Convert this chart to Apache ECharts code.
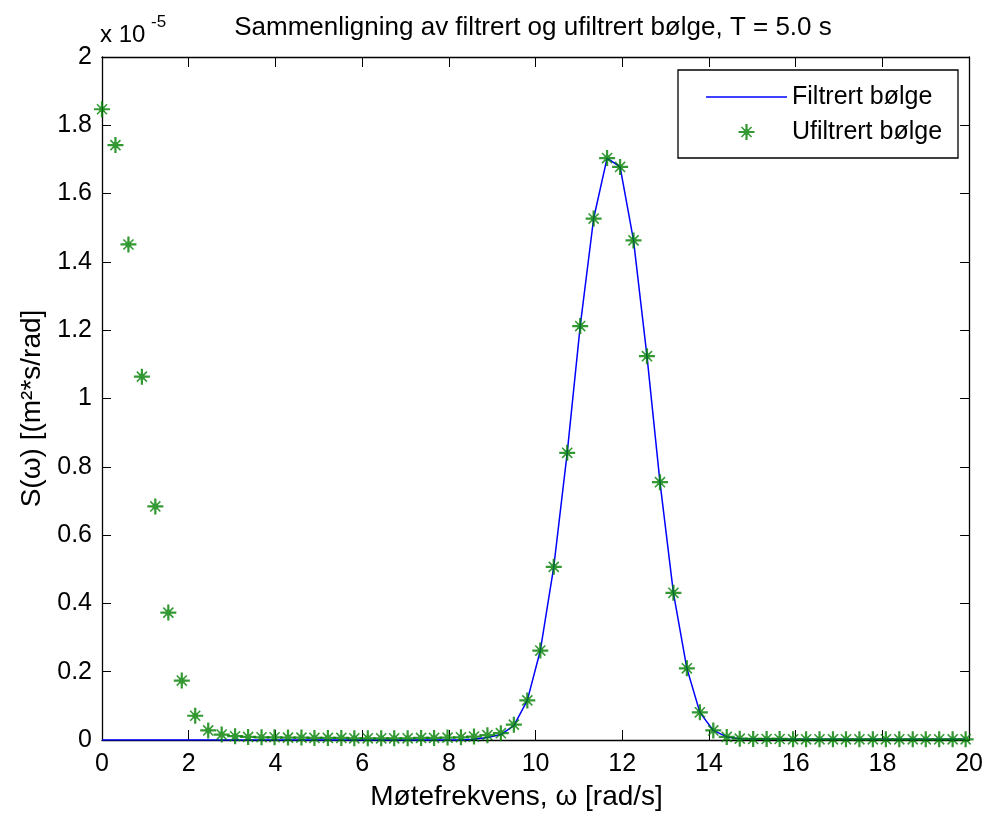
<!DOCTYPE html>
<html>
<head>
<meta charset="utf-8">
<title>Sammenligning av filtrert og ufiltrert bølge</title>
<script src="https://cdn.jsdelivr.net/npm/echarts@6/dist/echarts.min.js"></script>
<style>html,body{margin:0;padding:0;background:#fff}#chart{width:986px;height:816px}</style>
</head>
<body>
<div id="chart"></div>
<script>
// encounter frequency [rad/s]
var omega=[0,0.31,0.61,0.92,1.23,1.53,1.84,2.15,2.45,2.76,3.07,3.37,3.68,3.98,4.29,4.60,4.90,5.21,5.52,5.82,
	6.13,6.44,6.74,7.05,7.36,7.66,7.97,8.28,8.58,8.89,9.20,9.50,9.81,10.11,10.42,10.73,11.03,11.34,11.65,11.95,
	12.26,12.57,12.87,13.18,13.49,13.79,14.10,14.41,14.71,15.02,15.33,15.63,15.94,16.24,16.55,16.86,17.16,17.47,17.78,18.08,
	18.39,18.70,19.00,19.31,19.62,19.92];
// S(w) in units of 1e-5
var ufiltrert=[1.847,1.742,1.451,1.064,0.684,0.373,0.174,0.071,0.028,0.016,0.011,0.009,0.008,0.008,0.007,0.007,0.006,0.006,0.006,0.005,
	0.005,0.005,0.005,0.005,0.006,0.006,0.007,0.008,0.010,0.014,0.020,0.045,0.116,0.262,0.507,0.841,1.212,1.527,1.704,1.678,
	1.463,1.124,0.755,0.431,0.210,0.081,0.028,0.009,0.004,0.003,0.003,0.003,0.002,0.002,0.002,0.002,0.002,0.002,0.002,0.002,
	0.002,0.002,0.002,0.002,0.002,0.002];
var filtrert=[0,0,0,0,0,0,0,0,0,0,0,0,0,0,0,0,0,0,0,0,
	0,0,0,0,0,0,0,0,0.002,0.007,0.016,0.042,0.116,0.262,0.507,0.841,1.212,1.527,1.704,1.678,
	1.463,1.124,0.755,0.431,0.210,0.081,0.028,0.009,0.004,0.003,0.003,0.003,0.002,0.002,0.002,0.002,0.002,0.002,0.002,0.002,
	0.002,0.002,0.002,0.002,0.002,0.002];

var font="'Liberation Sans', Arial, sans-serif";
// matlab style '*' marker
var star='path://M8.6 0L11.4 0L11.4 20L8.6 20ZM0 8.6L20 8.6L20 11.4L0 11.4Z'+
	'M3 4.4L4.4 3L17 15.6L15.6 17ZM15.6 3L17 4.4L4.4 17L3 15.6ZM6.5 6.5L13.5 6.5L13.5 13.5L6.5 13.5Z';

function pairs(ys){
	var out=[];
	for(var i=0;i<omega.length;i++)out.push([omega[i],ys[i]]);
	return out;
}

var axisLine={onZero:!1,lineStyle:{color:"#000",width:1.3}};
var txt={color:"#000",fontFamily:font,fontSize:25};

var chart=echarts.init(document.getElementById("chart"));
chart.setOption({
	animation:!1,
	backgroundColor:"#fff",
	grid:{left:102,top:57,width:869,height:685},
	xAxis:[
		{type:"value",min:0,max:20,interval:2,position:"bottom",axisLine:axisLine,
			axisTick:{inside:!0,length:10,lineStyle:{color:"#000"}},
			axisLabel:Object.assign({margin:12},txt),splitLine:{show:!1},
			name:"Møtefrekvens, ω [rad/s]",nameLocation:"middle",nameGap:43,
			nameTextStyle:Object.assign({},txt,{fontSize:28,padding:[0,38,0,0]})},
		{type:"value",min:0,max:20,interval:2,position:"top",axisLine:axisLine,
			axisTick:{inside:!0,length:10,lineStyle:{color:"#000"}},axisLabel:{show:!1},splitLine:{show:!1}}
	],
	yAxis:[
		{type:"value",min:0,max:2,interval:0.2,position:"left",axisLine:axisLine,
			axisTick:{inside:!0,length:9,lineStyle:{color:"#000"}},
			axisLabel:Object.assign({margin:10},txt),splitLine:{show:!1},
			name:"S(ω) [(m²*s/rad]",nameLocation:"middle",nameGap:55,
			nameTextStyle:Object.assign({},txt,{fontSize:28,padding:[0,20,0,0]})},
		{type:"value",min:0,max:2,interval:0.2,position:"right",axisLine:axisLine,
			axisTick:{inside:!0,length:9,lineStyle:{color:"#000"}},axisLabel:{show:!1},splitLine:{show:!1}}
	],
	legend:{orient:"vertical",left:706,top:84,padding:0,itemWidth:81,itemHeight:16,itemGap:9,
		textStyle:Object.assign({lineHeight:26},txt),
		data:[{name:"Filtrert bølge",icon:"path://M0 0L80 0L80 1.5L0 1.5Z"},{name:"Ufiltrert bølge"}]},
	graphic:[
		{type:"rect",shape:{x:678,y:70,width:280,height:88},style:{fill:"#fff",stroke:"#000",lineWidth:1.3},z:-1},
		{type:"text",style:{text:"Sammenligning av filtrert og ufiltrert bølge, T = 5.0 s",x:533,y:28,
			textAlign:"center",textVerticalAlign:"middle",font:"26px "+font,fill:"#000"}},
		{type:"text",style:{text:"x 10",x:100,y:35,textVerticalAlign:"middle",font:"24px "+font,fill:"#000"}},
		{type:"text",style:{text:"-5",x:151,y:22,textVerticalAlign:"middle",font:"17px "+font,fill:"#000"}}
	],
	series:[
		{type:"line",name:"Filtrert bølge",data:pairs(filtrert),symbol:"none",showSymbol:!1,
			lineStyle:{color:"#0000ff",width:1.5},itemStyle:{color:"#0000ff"},z:2},
		{type:"scatter",name:"Ufiltrert bølge",data:pairs(ufiltrert),symbol:star,symbolSize:16,
			itemStyle:{color:"#008000"},z:3}
	]
});
window.addEventListener("resize",function(){chart.resize();});
</script>
</body>
</html>
